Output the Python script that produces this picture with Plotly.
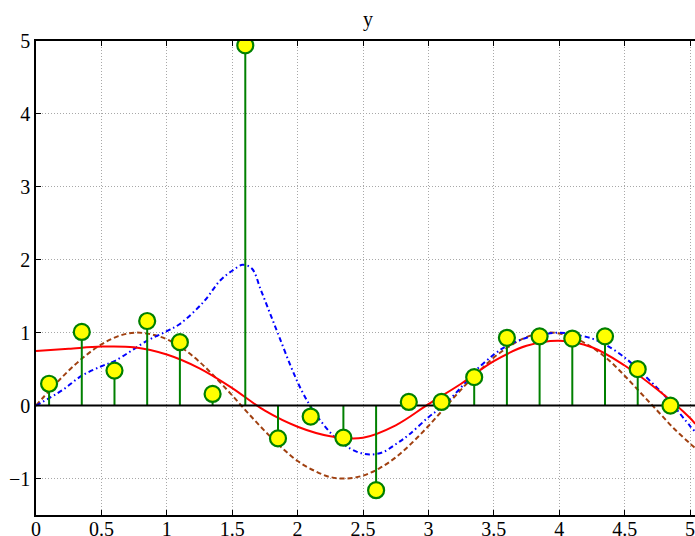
import plotly.graph_objects as go

# Stem data
stem_x = [0.1, 0.35, 0.6, 0.85, 1.1, 1.35, 1.6, 1.85, 2.1, 2.35,
          2.6, 2.85, 3.1, 3.35, 3.6, 3.85, 4.1, 4.35, 4.6, 4.85]
stem_y = [0.30, 1.01, 0.48, 1.16, 0.87, 0.16, 4.94, -0.45, -0.15, -0.44,
          -1.16, 0.05, 0.05, 0.39, 0.93, 0.95, 0.92, 0.95, 0.50, 0.00]

# Red solid curve
red_x = [0, 0.25, 0.5, 0.75, 1.0, 1.25, 1.5, 1.75, 2.0, 2.25, 2.5, 2.75,
         3.0, 3.25, 3.5, 3.75, 4.0, 4.25, 4.5, 4.75, 5.0, 5.04]
red_y = [0.75, 0.78, 0.81, 0.80, 0.70, 0.51, 0.24, -0.07, -0.29, -0.42, -0.44, -0.27,
         0.02, 0.30, 0.61, 0.82, 0.89, 0.80, 0.55, 0.22, -0.17, -0.25]

# Blue dash-dot curve
blue_x = [0, 0.2, 0.35, 0.5, 0.6, 0.85, 1.0, 1.1, 1.28, 1.41, 1.5, 1.58, 1.65,
          1.72, 1.79, 1.86, 1.95, 2.03, 2.12, 2.26, 2.35, 2.45, 2.55, 2.65, 2.75,
          2.85, 3.0, 3.1, 3.25, 3.35, 3.5, 3.6, 3.75, 3.85, 4.0, 4.1, 4.25, 4.35,
          4.5, 4.6, 4.75, 4.85, 5.0, 5.04]
blue_y = [0.0, 0.21, 0.41, 0.54, 0.61, 0.89, 1.02, 1.12, 1.42, 1.72, 1.85, 1.93, 1.88,
          1.58, 1.26, 0.94, 0.53, 0.21, -0.07, -0.39, -0.53, -0.63, -0.67, -0.64, -0.53,
          -0.40, -0.16, -0.02, 0.25, 0.46, 0.70, 0.82, 0.93, 0.97, 1.00, 0.98, 0.92, 0.84,
          0.66, 0.50, 0.24, 0.05, -0.28, -0.36]

# Brown dashed curve
brown_x = [0, 0.125, 0.25, 0.375, 0.5, 0.625, 0.75, 0.875, 1.0, 1.125, 1.25, 1.375,
           1.5, 1.625, 1.75, 1.875, 2.0, 2.125, 2.25, 2.375, 2.5, 2.625, 2.75, 2.875,
           3.0, 3.125, 3.25, 3.375, 3.5, 3.625, 3.75, 3.875, 4.0, 4.125, 4.25, 4.375,
           4.5, 4.625, 4.75, 4.875, 5.0, 5.04]
brown_y = [0.0, 0.25, 0.48, 0.68, 0.84, 0.95, 1.0, 0.98, 0.91, 0.78, 0.60, 0.38,
           0.14, -0.11, -0.35, -0.57, -0.76, -0.89, -0.98, -1.0, -0.96, -0.86, -0.71, -0.51,
           -0.28, -0.03, 0.22, 0.45, 0.66, 0.82, 0.94, 1.0, 0.99, 0.92, 0.80, 0.63,
           0.41, 0.17, -0.07, -0.31, -0.52, -0.58]

x_ticks = [0, 0.5, 1, 1.5, 2, 2.5, 3, 3.5, 4, 4.5, 5]
x_tick_text = ["0", "0.5", "1", "1.5", "2", "2.5", "3", "3.5", "4", "4.5", "5"]
y_ticks = [-1, 0, 1, 2, 3, 4, 5]
y_tick_text = ["\u22121", "0", "1", "2", "3", "4", "5"]

GREEN = "#008000"

fig = go.Figure()

fig.add_trace(go.Scatter(x=brown_x, y=brown_y, mode="lines",
                         line=dict(color="#a04010", width=2, dash="5px,3px", shape="spline"),
                         hoverinfo="skip"))
fig.add_trace(go.Scatter(x=blue_x, y=blue_y, mode="lines",
                         line=dict(color="#0000ff", width=2, dash="5px,3px,1.5px,3px", shape="spline"),
                         hoverinfo="skip"))
fig.add_trace(go.Scatter(x=red_x, y=red_y, mode="lines",
                         line=dict(color="#ff0000", width=2, shape="spline"),
                         hoverinfo="skip"))

# stems
sx, sy = [], []
for xv, yv in zip(stem_x, stem_y):
    sx += [xv, xv, None]
    sy += [0, yv, None]
fig.add_trace(go.Scatter(x=sx, y=sy, mode="lines",
                         line=dict(color=GREEN, width=2), hoverinfo="skip"))

# baseline
fig.add_trace(go.Scatter(x=[0, 5.04], y=[0, 0], mode="lines",
                         line=dict(color="black", width=2), hoverinfo="skip"))

fig.add_trace(go.Scatter(x=stem_x, y=stem_y, mode="markers",
                         marker=dict(symbol="circle", size=16, color="#ffff00",
                                     line=dict(color=GREEN, width=2.2))))

font = dict(family="Liberation Serif, Times New Roman, serif", size=20, color="black")

fig.update_layout(
    width=695, height=536,
    margin=dict(l=36, r=0, t=41, b=21, autoexpand=False),
    paper_bgcolor="white", plot_bgcolor="white",
    showlegend=False,
    font=font,
    title=dict(text="y", x=(36 + 700) / 2 / 695, xanchor="center", y=1 - 19 / 536,
               yanchor="middle", font=font, automargin=False),
)
fig.update_xaxes(range=[0, 5.038], tickvals=x_ticks, ticktext=x_tick_text,
                 showgrid=True, gridcolor="#a8a8a8", griddash="1px,2px", gridwidth=1,
                 zeroline=False, showline=True, linecolor="black", linewidth=1.5,
                 mirror="ticks", ticks="inside", ticklen=5, tickcolor="black",
                 tickfont=font, automargin=False, ticklabelstandoff=-5,
                 ticklabeloverflow="allow")
fig.update_yaxes(range=[-1.5, 5], tickvals=y_ticks, ticktext=y_tick_text,
                 showgrid=True, gridcolor="#a8a8a8", griddash="1px,2px", gridwidth=1,
                 zeroline=False, showline=True, linecolor="black", linewidth=1.5,
                 mirror=False, ticks="inside", ticklen=5, tickcolor="black",
                 tickfont=font, automargin=False, ticklabeloverflow="allow")

fig.write_html("out.html", config={"displayModeBar": False},
               post_script="document.body.style.margin='0';document.body.style.padding='0';"
                           "document.body.style.overflow='hidden';")
